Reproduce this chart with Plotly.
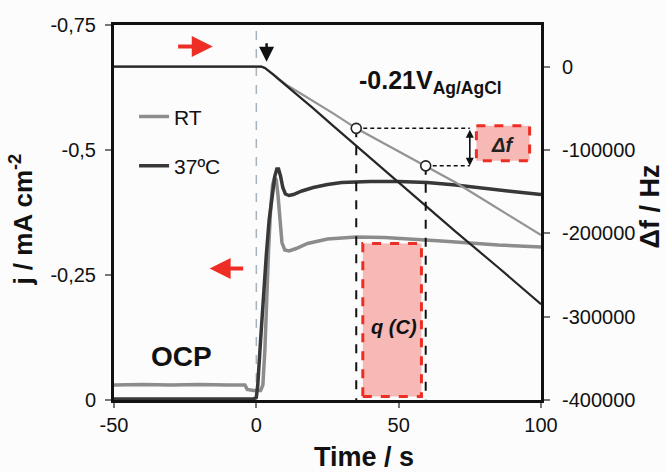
import plotly.graph_objects as go

# ---------------- data ----------------
# current density, RT (light grey)
t_rt = [-50, -40, -30, -20, -10, -4, -3.2, -1, 1.5, 2.3, 3.0, 3.5, 4.3, 5.0, 5.7, 6.4, 7.0, 7.6,
        8.3, 9.0, 10.0, 11.5, 14, 18, 25, 35, 45, 55, 65, 75, 85, 100]
j_rt = [-0.030, -0.031, -0.030, -0.031, -0.030, -0.030, -0.021, -0.019, -0.019, -0.030, -0.10,
        -0.20, -0.30, -0.38, -0.43, -0.445, -0.44, -0.41, -0.35, -0.315, -0.300, -0.298, -0.303,
        -0.313, -0.322, -0.326, -0.325, -0.322, -0.318, -0.314, -0.310, -0.306]

# current density, 37 ºC (dark)
t_37 = [-50, -30, -10, -1, 0, 0.5, 1.5, 2.5, 3.5, 4.5, 5.5, 6.5, 7.2, 7.8, 8.5, 9.3, 10.2, 11.5,
        13, 16, 20, 25, 30, 40, 50, 60, 70, 80, 90, 100]
j_37 = [-0.002, -0.002, -0.003, -0.002, -0.005, -0.03, -0.12, -0.21, -0.29, -0.36, -0.41, -0.448,
        -0.462, -0.462, -0.448, -0.425, -0.412, -0.409, -0.411, -0.418, -0.425, -0.431, -0.435,
        -0.437, -0.437, -0.435, -0.430, -0.423, -0.417, -0.411]

# frequency shift, RT
tf_rt = [-50, 1.8, 3, 4.5, 6, 8, 10.5, 15, 20, 27, 35.1, 42, 49.4, 59.5, 70, 80, 90, 100]
f_rt = [0, 0, -1500, -5000, -9500, -15000, -21500, -31000, -41000, -56000, -74000, -87000,
        -100000, -119000, -139000, -160000, -181000, -202000]

# frequency shift, 37 ºC
tf_37 = [-50, 1.8, 3, 4.5, 6, 8, 10.5, 15, 20, 27, 35.1, 45, 57.4, 70, 85, 100]
f_37 = [0, 0, -1500, -5000, -9500, -15500, -22500, -35500, -50000, -71000, -95000, -124000,
        -161000, -198000, -241000, -285000]

# marked points on the RT frequency curve
circle_t = [35.1, 59.5]
circle_f = [-74000, -119000]

# ticks
x_ticks = [-50, 0, 50, 100]
x_ticklabels = ["-50", "0", "50", "100"]
y_ticks = [0, -0.25, -0.5, -0.75]
y_ticklabels = ["0", "-0,25", "-0,5", "-0,75"]
y2_ticks = [0, -100000, -200000, -300000, -400000]
y2_ticklabels = ["0", "-100000", "-200000", "-300000", "-400000"]

FONT = "Liberation Sans, Arial, sans-serif"
RED = "#ee2e24"
PINK = "rgba(242,140,135,0.6)"

fig = go.Figure()

# frequency traces (right axis)
fig.add_trace(go.Scatter(x=tf_rt, y=f_rt, yaxis="y2", mode="lines",
                         line=dict(color="#949494", width=2.2), showlegend=False))
fig.add_trace(go.Scatter(x=tf_37, y=f_37, yaxis="y2", mode="lines",
                         line=dict(color="#262626", width=2.2), showlegend=False))

# dashed guides from the marked points
for ct, cf in zip(circle_t, circle_f):
    fig.add_trace(go.Scatter(x=[ct, ct], y=[cf, -400000], yaxis="y2", mode="lines",
                             line=dict(color="#111", width=2, dash="dash"), showlegend=False))
    fig.add_trace(go.Scatter(x=[ct, 75], y=[cf, cf], yaxis="y2", mode="lines",
                             line=dict(color="#111", width=1.5, dash="4px,3px"), showlegend=False))

# current traces (left axis)
fig.add_trace(go.Scatter(x=t_rt, y=j_rt, mode="lines", name="RT", legendgroup="a",
                         line=dict(color="#8c8c8c", width=3.5)))
fig.add_trace(go.Scatter(x=t_37, y=j_37, mode="lines", name="37ºC", legendgroup="b",
                         line=dict(color="#383838", width=3.5)))

# circles
fig.add_trace(go.Scatter(x=circle_t, y=circle_f, yaxis="y2", mode="markers",
                         marker=dict(size=10, color="white", line=dict(color="#222", width=1.6)),
                         showlegend=False))

shapes = [
    dict(type="line", xref="x", yref="paper", x0=0, x1=0, y0=0, y1=1,
         line=dict(color="#a8b3bc", width=1.5, dash="dash"), layer="below"),
    dict(type="rect", xref="x", yref="y", x0=37.4, x1=58.0, y0=-0.007, y1=-0.313,
         fillcolor=PINK, line=dict(color=RED, width=3, dash="dash"), layer="below"),
    dict(type="rect", xref="x", yref="y2", x0=77.3, x1=96.0, y0=-70800, y1=-112800,
         fillcolor=PINK, line=dict(color=RED, width=3, dash="dash"), layer="below"),
]

C = dict(xanchor="center", yanchor="middle", showarrow=False)
annotations = [
    # axis titles
    dict(text="<b>j / mA cm<sup>-2</sup></b>", xref="paper", yref="paper", x=-0.2155, y=0.481,
         textangle=-90, font=dict(size=26, color="#111", family=FONT), **C),
    dict(text="<b>Δf / Hz</b>", xref="paper", yref="paper", x=1.255, y=0.516,
         textangle=-90, font=dict(size=27, color="#111", family=FONT), **C),
    dict(text="<b>Time / s</b>", xref="paper", yref="paper", x=0.585, y=-0.153,
         font=dict(size=27, color="#111", family=FONT), **C),
    # labels
    dict(text="<b>-0.21V<sub>Ag/AgCl</sub></b>", xref="paper", yref="paper", x=0.569, y=0.848,
         xanchor="left", yanchor="middle", showarrow=False,
         font=dict(size=25, color="#111", family=FONT)),
    dict(text="<b>OCP</b>", xref="paper", yref="paper", x=0.157, y=0.116,
         font=dict(size=28, color="#111", family=FONT), **C),
    dict(text="<b><i>q (C)</i></b>", xref="x", yref="y", x=48.2, y=-0.147,
         font=dict(size=20, color="#111", family=FONT), **C),
    dict(text="<b><i>Δf</i></b>", xref="x", yref="y2", x=86.6, y=-94000,
         font=dict(size=20, color="#222", family=FONT), **C),
    # red arrows
    dict(text="", xref="x", yref="y", x=-15.3, y=-0.707, axref="x", ayref="y", ax=-28, ay=-0.707,
         showarrow=True, arrowhead=2, arrowsize=1.05, arrowwidth=4, arrowcolor=RED),
    dict(text="", xref="x", yref="y", x=-16.4, y=-0.263, axref="x", ayref="y", ax=-4.1, ay=-0.263,
         showarrow=True, arrowhead=2, arrowsize=1.05, arrowwidth=4, arrowcolor=RED),
    # black start arrow
    dict(text="", xref="x", yref="y2", x=3.6, y=6000, axref="x", ayref="y2", ax=3.6, ay=30000,
         showarrow=True, arrowhead=2, arrowsize=1.2, arrowwidth=2.5, arrowcolor="#111"),
    # double arrow for delta f
    dict(text="", xref="x", yref="y2", x=75, y=-119000, axref="x", ayref="y2", ax=75, ay=-74000,
         showarrow=True, arrowhead=2, startarrowhead=2, arrowside="end+start", arrowsize=1,
         arrowwidth=1.6, arrowcolor="#111"),
]

fig.update_layout(
    width=666, height=472,
    margin=dict(l=114, r=125, t=25, b=72),
    paper_bgcolor="#fcfcfd", plot_bgcolor="#fcfcfd",
    font=dict(family=FONT, size=20, color="#111"),
    shapes=shapes, annotations=annotations,
    showlegend=True,
    legend=dict(x=0.047, y=0.81, xanchor="left", yanchor="top", bgcolor="rgba(0,0,0,0)",
                font=dict(size=21, family=FONT, color="#111"), tracegroupgap=19,
                traceorder="grouped"),
    xaxis=dict(range=[-50, 100], tickvals=x_ticks, ticktext=x_ticklabels, showgrid=False,
               zeroline=False, showline=True, linewidth=3, linecolor="#111", mirror=True,
               ticks="outside", ticklen=5, tickwidth=1.5, tickcolor="#777"),
    yaxis=dict(range=[0, -0.75], tickvals=y_ticks, ticktext=y_ticklabels, showgrid=False,
               zeroline=False, showline=True, linewidth=3, linecolor="#111",
               ticks="outside", ticklen=6, tickwidth=1.5, tickcolor="#777", ticklabelstandoff=5),
    yaxis2=dict(range=[-400000, 50000], tickvals=y2_ticks, ticktext=y2_ticklabels, overlaying="y",
                side="right", showgrid=False, zeroline=False, showline=True, linewidth=3,
                linecolor="#111", ticks="outside", ticklen=6, tickwidth=1.5, tickcolor="#777",
                ticklabelstandoff=8),
)

fig.write_html("out.html")
